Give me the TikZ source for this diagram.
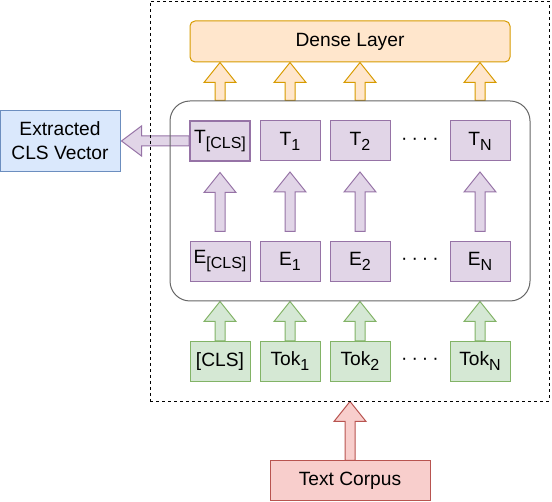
\documentclass[tikz,border=0pt]{standalone}
\usepackage{fontspec}
\setmainfont{Liberation Sans}
\usetikzlibrary{calc,backgrounds}
\definecolor{orF}{HTML}{FFE6CC}\definecolor{orD}{HTML}{D79B00}
\definecolor{puF}{HTML}{E1D5E7}\definecolor{puD}{HTML}{9673A6}
\definecolor{grF}{HTML}{D5E8D4}\definecolor{grD}{HTML}{82B366}
\definecolor{reF}{HTML}{F8CECC}\definecolor{reD}{HTML}{B85450}
\definecolor{blF}{HTML}{DAE8FC}\definecolor{blD}{HTML}{6C8EBF}
\definecolor{encD}{HTML}{666666}
\newcommand\sbs[1]{\raisebox{-5pt}{\fontsize{16}{16}\selectfont #1}}
% #1 style, #2 bottom point, #3 tip point (same x)
\newcommand\barrowup[3]{\path[#1]
  ($(#2)+(-5pt,0)$) -- ($(#3)+(-5pt,-20pt)$) -- ($(#3)+(-16pt,-20pt)$) -- (#3) --
  ($(#3)+(16pt,-20pt)$) -- ($(#3)+(5pt,-20pt)$) -- ($(#2)+(5pt,0)$) -- cycle;}
\begin{document}
\begin{tikzpicture}[x=1pt,y=-1pt,
  font=\fontsize{19.2}{24}\selectfont,
  sbox/.style={draw, line width=1pt, minimum width=60pt, minimum height=40pt, inner sep=0pt},
  tbox/.style={sbox, fill=puF, draw=puD},
  tokbox/.style={sbox, fill=grF, draw=grD},
  oarr/.style={fill=orF, draw=orD, line width=1pt},
  parr/.style={fill=puF, draw=puD, line width=1pt},
  garr/.style={fill=grF, draw=grD, line width=1pt},
  rarr/.style={fill=reF, draw=reD, line width=1pt},
  dotsn/.style={inner sep=0pt}]
\useasboundingbox (0,0) rectangle (552,502);
\node[draw, dashed, dash pattern=on 3pt off 3pt, line width=0.9pt, minimum width=399pt, minimum height=400pt, inner sep=0pt] (outer) at (349.5,201) {};
\node[draw=encD, line width=1pt, rounded corners=20pt, minimum width=360pt, minimum height=200pt, inner sep=0pt] (enc) at (350,201) {};
\node[sbox, fill=orF, draw=orD, rounded corners=5pt, minimum width=320pt, minimum height=41pt] (dense) at (350,41.5) {Dense Layer};
\node[tbox, line width=2pt] (tc) at (220,141) {T\sbs{[CLS]}};
\node[tbox] (t1) at (290,141) {T\sbs{1}};
\node[tbox] (t2) at (360,141) {T\sbs{2}};
\node[dotsn] (td) at (420,141) {·\hspace{4pt}·\hspace{4pt}·\hspace{4pt}·};
\node[tbox] (tn) at (480,141) {T\sbs{N}};
\node[tbox] (ec) at (220,261.5) {E\sbs{[CLS]}};
\node[tbox] (e1) at (290,261.5) {E\sbs{1}};
\node[tbox] (e2) at (360,261.5) {E\sbs{2}};
\node[dotsn] (ed) at (420,261.5) {·\hspace{4pt}·\hspace{4pt}·\hspace{4pt}·};
\node[tbox] (en) at (480,261.5) {E\sbs{N}};
\node[tokbox] (kc) at (220,361.5) {[CLS]};
\node[tokbox] (k1) at (290,361.5) {Tok\sbs{1}};
\node[tokbox] (k2) at (360,361.5) {Tok\sbs{2}};
\node[dotsn] (kd) at (420,361.5) {·\hspace{4pt}·\hspace{4pt}·\hspace{4pt}·};
\node[tokbox] (kn) at (480,361.5) {Tok\sbs{N}};
\node[sbox, fill=blF, draw=blD, minimum width=120pt, minimum height=61pt, align=center] (cls) at (60,141) {Extracted\\CLS Vector};
\node[sbox, fill=reF, draw=reD, minimum width=160pt, minimum height=40pt] (corpus) at (350,481) {Text Corpus};
\foreach \n in {tc,t1,t2,tn}{
  \coordinate (ob\n) at (\n |- enc.north);
  \coordinate (ot\n) at (\n |- dense.south);
  \coordinate (pt\n) at ($(\n.south)+(0,-10.5pt)$);}
\foreach \n in {ec,e1,e2,en}{\coordinate (pb\n) at ($(\n.north)+(0,9.5pt)$);}
\foreach \n in {kc,k1,k2,kn}{\coordinate (gt\n) at (\n |- enc.south);}
\coordinate (rt) at (corpus.north |- outer.south);
\coordinate (lt) at ($(cls.east)+(1pt,0)$);
\begin{scope}[on background layer]
\foreach \n in {tc,t1,t2,tn}{\barrowup{oarr}{ob\n}{ot\n}}
\foreach \a/\b in {ec/tc,e1/t1,e2/t2,en/tn}{\barrowup{parr}{pb\a}{pt\b}}
\foreach \n in {kc,k1,k2,kn}{\barrowup{garr}{\n.north}{gt\n}}
\barrowup{rarr}{corpus.north}{rt}
\path[parr] ($(tc.west)+(0,5pt)$) -- ($(lt)+(20pt,5pt)$) -- ($(lt)+(20pt,15pt)$) -- (lt) --
  ($(lt)+(20pt,-15pt)$) -- ($(lt)+(20pt,-5pt)$) -- ($(tc.west)+(0,-5pt)$) -- cycle;
\end{scope}
\end{tikzpicture}
\end{document}
